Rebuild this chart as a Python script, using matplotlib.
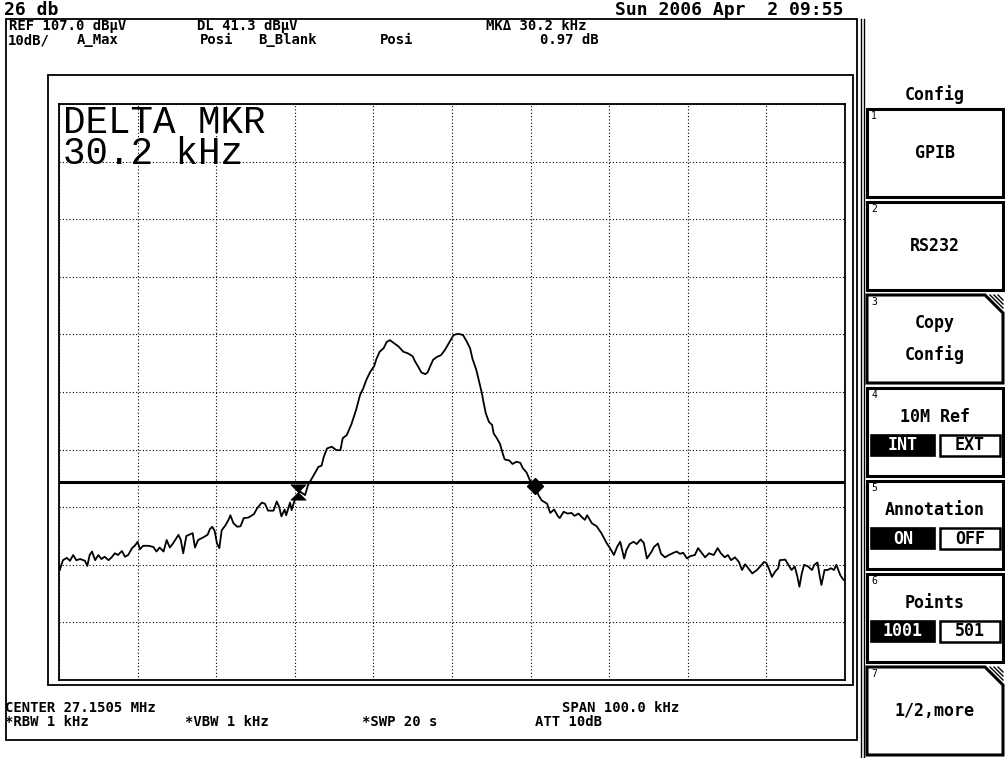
import matplotlib
matplotlib.use("Agg")
import matplotlib.pyplot as plt
from matplotlib.patches import Rectangle, Polygon
import numpy as np

W, H = 1005, 758
MONO = "DejaVu Sans Mono"
BIG = "Liberation Mono"

# trace: offset from centre (kHz) and level (dBuV)
freq_khz = [
    -49.9, -49.5, -49.0, -48.6, -48.2, -47.8, -47.3, -46.7, -46.4, -46.1,
    -45.8, -45.4, -45.0, -44.6, -44.2, -43.7, -43.3, -42.9, -42.5, -42.0,
    -41.6, -41.2, -40.7, -40.3, -40.0, -39.7, -39.3, -38.6, -38.0, -37.6,
    -37.2, -36.7, -36.3, -35.9, -35.5, -34.8, -34.5, -34.2, -33.8, -33.3,
    -33.0, -32.7, -32.3, -31.6, -31.1, -30.8, -30.5, -30.2, -29.9, -29.6,
    -29.3, -28.8, -28.4, -28.2, -27.8, -27.3, -26.9, -26.5, -25.9, -25.2,
    -24.8, -24.2, -23.8, -23.4, -22.7, -22.3, -22.0, -21.7, -21.3, -21.1,
    -20.6, -20.4, -20.0, -19.3, -18.7, -18.3, -17.7, -17.0, -16.6, -16.3,
    -15.9, -15.3, -14.7, -14.2, -13.9, -13.4, -12.8, -12.2, -11.7, -11.3,
    -10.9, -10.4, -9.9, -9.6, -9.2, -8.7, -8.3, -7.9, -7.4, -6.8,
    -6.2, -5.6, -5.0, -4.7, -4.3, -3.9, -3.4, -3.1, -2.8, -2.4,
    -1.9, -1.4, -0.9, -0.3, 0.2, 0.8, 1.4, 1.9, 2.3, 2.6,
    3.1, 3.4, 3.8, 4.0, 4.3, 4.7, 5.1, 5.3, 5.7, 6.1,
    6.5, 6.7, 7.3, 7.7, 8.2, 8.7, 9.0, 9.5, 9.9, 10.6,
    11.0, 11.4, 12.1, 12.5, 13.0, 13.4, 13.7, 14.2, 14.7, 15.2,
    15.6, 16.1, 16.5, 16.9, 17.2, 17.8, 18.4, 19.0, 19.7, 20.1,
    20.6, 21.0, 21.4, 21.9, 22.2, 22.6, 23.1, 23.5, 24.0, 24.4,
    24.8, 25.4, 25.7, 26.2, 26.6, 27.1, 27.6, 28.2, 28.6, 29.0,
    29.4, 29.9, 30.3, 30.9, 31.3, 31.8, 32.2, 32.7, 33.3, 33.8,
    34.2, 34.7, 35.1, 35.5, 36.0, 36.5, 36.9, 37.3, 37.8, 38.2,
    38.8, 39.2, 39.7, 40.0, 40.3, 40.7, 41.1, 41.5, 41.7, 42.4,
    42.8, 43.2, 43.6, 43.9, 44.2, 44.5, 44.8, 45.3, 45.8, 46.1,
    46.5, 46.8, 47.0, 47.4, 47.8, 48.2, 48.6, 48.9, 49.4, 49.8,
]
level_dbuv = [
    26.1, 27.8, 28.2, 27.7, 28.7, 27.8, 28.0, 27.7, 26.8, 28.7,
    29.3, 27.8, 28.7, 28.0, 28.4, 27.8, 28.3, 29.0, 28.7, 29.4,
    28.4, 28.7, 29.9, 30.4, 31.0, 29.7, 30.3, 30.3, 30.1, 29.3,
    30.0, 29.3, 31.3, 30.0, 30.7, 32.2, 31.3, 29.0, 32.0, 32.3,
    32.5, 30.0, 31.3, 31.8, 32.2, 33.2, 33.6, 32.9, 30.7, 29.9,
    33.0, 33.9, 34.9, 35.6, 34.2, 33.6, 33.7, 35.1, 35.2, 35.8,
    36.8, 37.8, 37.6, 36.4, 36.4, 38.0, 37.1, 35.4, 36.6, 35.6,
    37.8, 36.5, 38.3, 39.7, 39.1, 40.9, 42.3, 44.0, 44.2, 45.8,
    47.2, 47.5, 46.9, 46.9, 49.0, 49.5, 51.4, 53.9, 56.5, 57.6,
    59.1, 60.5, 61.5, 62.8, 64.0, 64.6, 65.7, 66.0, 65.5, 64.9,
    64.0, 63.7, 63.2, 62.3, 61.4, 60.4, 60.1, 60.4, 61.4, 62.6,
    63.1, 63.4, 64.3, 65.7, 66.9, 67.1, 66.9, 65.7, 64.6, 62.8,
    60.8, 59.1, 56.8, 55.3, 53.3, 51.8, 51.3, 49.8, 49.0, 48.0,
    46.1, 45.3, 45.1, 44.5, 44.9, 44.7, 43.8, 43.0, 41.7, 40.6,
    39.1, 38.2, 37.6, 36.0, 36.6, 35.6, 35.1, 36.2, 35.9, 36.0,
    35.5, 35.9, 35.3, 34.8, 35.6, 34.2, 33.7, 32.5, 30.7, 29.9,
    28.7, 30.1, 31.0, 28.1, 29.6, 30.6, 31.0, 30.6, 31.4, 30.8,
    28.1, 29.3, 30.1, 30.7, 28.9, 28.3, 28.7, 29.1, 29.3, 28.9,
    29.1, 28.1, 28.5, 28.7, 29.9, 29.0, 28.3, 29.0, 28.7, 29.9,
    29.0, 28.3, 28.7, 27.8, 28.3, 27.5, 26.1, 27.1, 26.2, 25.5,
    26.1, 26.7, 27.5, 27.3, 26.4, 24.9, 25.8, 26.4, 27.8, 27.9,
    27.0, 26.1, 26.7, 25.2, 23.2, 25.5, 27.0, 26.7, 26.1, 27.0,
    27.4, 24.9, 23.5, 26.1, 26.1, 26.4, 26.1, 27.0, 25.2, 24.4,
]

REF_LEVEL = 107.0
DB_PER_DIV = 10
HALF_SPAN = 50.0
DISPLAY_LINE = 41.3
ref_marker = (-19.6, 39.6)
delta_marker = (10.6, 40.6)

# screen annotations: (text, x, y)
title_left = ("26 db", 4, 10)
title_right = ("Sun 2006 Apr  2 09:55", 843, 10)
header_rows = [
    [("REF 107.0 dBµV", 9, 26), ("DL 41.3 dBµV", 197, 26), ("MKΔ 30.2 kHz", 486, 26)],
    [("10dB/", 8, 40), ("A_Max", 77, 40), ("Posi", 200, 40),
     ("B_Blank", 258, 40), ("Posi", 380, 40), ("0.97 dB", 540, 40)],
    [("CENTER 27.1505 MHz", 5, 708), ("SPAN 100.0 kHz", 562, 708)],
    [("*RBW 1 kHz", 5, 722), ("*VBW 1 kHz", 185, 722),
     ("*SWP 20 s", 362, 722), ("ATT 10dB", 535, 722)],
]
marker_readout = "DELTA MKR\n30.2 kHz"

menu_title = "Config"
menu_labels = ["GPIB", "RS232", "Copy\nConfig", "10M Ref", "Annotation", "Points", "1/2,more"]
menu_toggles = [None, None, None, ("INT", "EXT"), ("ON", "OFF"), ("1001", "501"), None]
menu_cut = [False, False, True, False, False, False, True]

fig = plt.figure(figsize=(W / 100, H / 100), dpi=100)

# whole-screen axes in pixel units for frames, softkeys and text
scr = fig.add_axes([0, 0, 1, 1])
scr.set_xlim(0, W)
scr.set_ylim(H, 0)
scr.axis("off")

# frames
scr.add_patch(Rectangle((6, 19), 851, 721, fill=False, ec="k", lw=1.3))
scr.add_patch(Rectangle((48, 75), 805, 610, fill=False, ec="k", lw=1.3))
for x in (861, 864):
    scr.plot([x, x], [19, H], color="k", lw=1.0)

scr.text(title_left[1], title_left[2], title_left[0], family=MONO, fontsize=13,
         fontweight="bold", va="center", ha="left")
scr.text(title_right[1], title_right[2], title_right[0], family=MONO, fontsize=13,
         fontweight="bold", va="center", ha="right")
for row in header_rows:
    for txt, x, y in row:
        scr.text(x, y, txt, family=MONO, fontsize=10, fontweight="bold",
                 va="center", ha="left")

# softkey menu
scr.text(935, 95, menu_title, family=MONO, fontsize=12, fontweight="bold",
         ha="center", va="center")
x0, x1, bh = 867, 1003, 88
for i, label in enumerate(menu_labels):
    top = 109 + i * 93
    bot = top + bh
    if menu_cut[i]:
        pts = [(x0, top), (x1 - 18, top), (x1, top + 18), (x1, bot), (x0, bot)]
        for d in (5, 9, 13):
            scr.plot([x1 - 18 + d, x1], [top, top + 18 - d], color="k", lw=1.0)
    else:
        pts = [(x0, top), (x1, top), (x1, bot), (x0, bot)]
    scr.add_patch(Polygon(pts, closed=True, fill=False, ec="k", lw=2.2))
    scr.text(871, top + 7, str(i + 1), family=MONO, fontsize=7, va="center")
    if menu_toggles[i] is None:
        scr.text(935, top + bh / 2, label, family=MONO, fontsize=12, fontweight="bold",
                 ha="center", va="center", linespacing=1.9)
    else:
        scr.text(935, top + 29, label, family=MONO, fontsize=12, fontweight="bold",
                 ha="center", va="center")
        on, off = menu_toggles[i]
        scr.add_patch(Rectangle((871, top + 47), 64, 21, fc="k", ec="k", lw=1.2))
        scr.add_patch(Rectangle((940, top + 47), 60, 21, fc="w", ec="k", lw=1.8))
        scr.text(903, top + 57.5, on, family=MONO, fontsize=12, fontweight="bold",
                 color="w", ha="center", va="center")
        scr.text(970, top + 57.5, off, family=MONO, fontsize=12, fontweight="bold",
                 ha="center", va="center")

# big marker readout in the top-left of the graticule
scr.text(63, 105, marker_readout, family=BIG, fontsize=27, va="top", ha="left",
         linespacing=0.83)

# graticule
ax = fig.add_axes([59 / W, 1 - 680 / H, 786 / W, 576 / H])
ax.set_xlim(-HALF_SPAN, HALF_SPAN)
ax.set_ylim(REF_LEVEL - 10 * DB_PER_DIV, REF_LEVEL)
ax.set_xticks(np.linspace(-HALF_SPAN, HALF_SPAN, 11))
ax.set_yticks(np.arange(REF_LEVEL - 10 * DB_PER_DIV, REF_LEVEL + 1, DB_PER_DIV))
ax.tick_params(length=0, labelbottom=False, labelleft=False)
ax.grid(True, color="k", linestyle=(0, (1, 2)), linewidth=0.8)
ax.patch.set_alpha(0)
for s in ax.spines.values():
    s.set_linewidth(1.3)

ax.plot(freq_khz, level_dbuv, color="k", lw=1.3)
ax.axhline(DISPLAY_LINE, color="k", lw=2.2)
bowtie = [(-1, 1), (1, 1), (-1, -1), (1, -1), (-1, 1)]
ax.plot(*ref_marker, marker=bowtie, ms=11, color="k", mew=0.5)
ax.plot(*delta_marker, marker="D", ms=8, color="k")

fig.savefig("out.png", dpi=100)
